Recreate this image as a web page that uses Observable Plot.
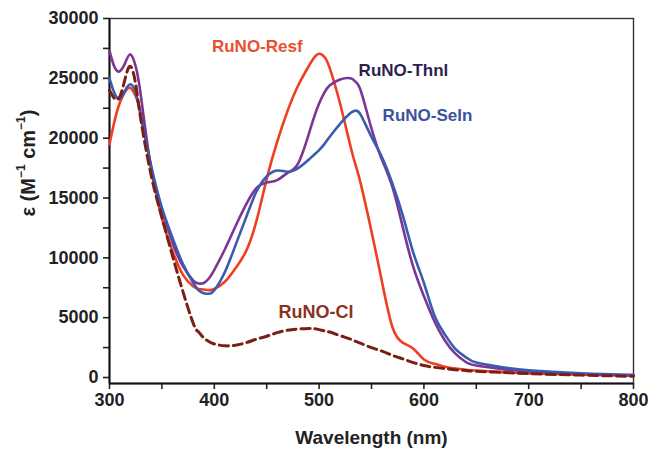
<!DOCTYPE html>
<html>
<head>
<meta charset="utf-8">
<script src="https://cdn.jsdelivr.net/npm/d3@7"></script>
<script src="https://cdn.jsdelivr.net/npm/@observablehq/plot@0.6"></script>
<style>
  html, body { margin: 0; padding: 0; background: #fff; }
</style>
</head>
<body>
<div id="chart"></div>
<script>
// Wavelength grid (nm)
const wavelengths = [300,305,310,315,320,325,330,340,350,360,370,380,385,390,395,400,410,420,430,440,450,460,470,480,490,495,500,505,510,520,530,535,540,550,560,570,580,590,600,610,620,630,640,650,675,700,750,800];

// Molar absorptivity (M^-1 cm^-1)
const resf = [19500,21500,23000,23900,24200,23500,22000,17400,13300,10600,8600,7600,7400,7350,7300,7400,8000,9100,10500,13000,16600,19700,22300,24400,26000,26700,27050,26800,25900,22900,19300,17700,16100,12200,8000,4200,2900,2400,1500,1150,900,750,650,580,450,350,230,150];
const thnl = [27300,25900,25600,26300,27000,26000,23500,17300,14000,11300,9300,8100,7850,7900,8300,9000,10700,12600,14400,15800,16300,16500,17100,17900,20300,21700,22900,23800,24400,24900,25000,24700,23900,20800,18200,15900,12500,9200,6800,4700,3100,2000,1300,1000,700,500,300,200];
const seln = [25000,23700,23300,24000,24500,23800,21800,17600,14200,11700,9500,7900,7300,7050,7000,7300,8800,11000,13300,15500,16800,17300,17200,17500,18200,18600,19000,19500,20100,21200,22100,22300,21900,20100,18400,16200,13500,10400,7900,5200,3600,2400,1700,1250,850,600,350,200];
const cl = [24000,23300,23500,25000,26000,24500,21500,16800,13400,10200,7200,4500,3800,3300,3000,2800,2650,2700,2900,3200,3450,3750,3950,4050,4100,4080,4000,3900,3800,3500,3200,3020,2850,2500,2200,1850,1550,1250,1000,850,750,650,580,520,420,330,200,100];

// Ticks
const xTicks = [300,400,500,600,700,800];
const xMinor = [350,450,550,650,750];
const yTicks = [0,5000,10000,15000,20000,25000,30000];
const yMinor = [2500,7500,12500,17500,22500,27500];

// Series names, colours, and label anchors
const seriesNames = ["RuNO-Resf","RuNO-Thnl","RuNO-Seln","RuNO-Cl"];
const lineColors = ["#ef3f22","#7d3595","#3a5bae","#7b1f14"];
const textColors = ["#e8502f","#2e1f50","#3b52a0","#8a3222"];
const labelWl = [441, 580.5, 603.4, 497];
const labelEps = [27650, 25650, 21890, 5430];
const labelSize = [17, 17, 17, 18];

const seriesValues = [resf, thnl, seln, cl];
const table = [];
seriesValues.forEach((vals, i) => {
  vals.forEach((v, j) => table.push({series: seriesNames[i], wl: wavelengths[j], eps: v}));
});
const labels = seriesNames.map((s, i) => ({series: s, wl: labelWl[i], eps: labelEps[i], color: textColors[i], size: labelSize[i]}));

const font = "'Liberation Sans', Arial, Helvetica, sans-serif";

const chart = Plot.plot({
  width: 648,
  height: 452,
  marginLeft: 109,
  marginRight: 15,
  marginTop: 18,
  marginBottom: 69,
  x: {domain: [300, 800]},
  y: {domain: [-500, 30000]},
  style: {fontFamily: font, fontWeight: "bold", background: "#fff", color: "#222"},
  marks: [
    Plot.axisX({ticks: xTicks, tickSize: 6, tickPadding: 4, fontSize: 18, label: null, strokeWidth: 1.6, fill: "#222", tickFormat: d => String(d)}),
    Plot.axisX({ticks: xMinor, tickSize: 6, tickFormat: () => "", label: null, strokeWidth: 1.6}),
    Plot.axisY({ticks: yTicks, tickSize: 6, tickPadding: 5, fontSize: 18, label: null, strokeWidth: 1.6, fill: "#222", tickFormat: d => String(d)}),
    Plot.axisY({ticks: yMinor, tickSize: 6, tickFormat: () => "", label: null, strokeWidth: 1.6}),
    Plot.frame({stroke: "#333", strokeWidth: 1.4}),
    Plot.ruleX([300], {stroke: "#111", strokeWidth: 2}),
    Plot.ruleY([-500], {stroke: "#111", strokeWidth: 2}),
    Plot.line(table.filter(d => d.series !== "RuNO-Cl"), {
      x: "wl", y: "eps", z: "series",
      stroke: d => lineColors[seriesNames.indexOf(d.series)],
      strokeWidth: 2.6, curve: "natural"
    }),
    Plot.line(table.filter(d => d.series === "RuNO-Cl"), {
      x: "wl", y: "eps",
      stroke: lineColors[3], strokeWidth: 3, strokeDasharray: "9,5", curve: "natural"
    }),
    Plot.text(labels, {
      x: "wl", y: "eps", text: "series", fill: "color", fontSize: "size",
      fontWeight: "bold", textAnchor: "middle", lineAnchor: "middle"
    }),
    Plot.text(["Wavelength (nm)"], {
      frameAnchor: "bottom", dy: 54, fontSize: 19, fontWeight: "bold", fill: "#222", lineAnchor: "middle"
    })
  ]
});

// y-axis title with superscripts
const svg = d3.select(chart);
const yt = svg.append("text")
  .attr("transform", "translate(30,163) rotate(-90)")
  .attr("text-anchor", "middle")
  .attr("dominant-baseline", "middle")
  .attr("font-family", font)
  .attr("font-weight", "bold")
  .attr("font-size", 20)
  .attr("fill", "#222");
yt.append("tspan").text("ε (M");
yt.append("tspan").attr("font-size", 12).attr("dy", -8).text("−1");
yt.append("tspan").attr("dy", 8).text(" cm");
yt.append("tspan").attr("font-size", 12).attr("dy", -8).text("−1");
yt.append("tspan").attr("dy", 8).text(")");

document.getElementById("chart").appendChild(chart);
</script>
</body>
</html>
